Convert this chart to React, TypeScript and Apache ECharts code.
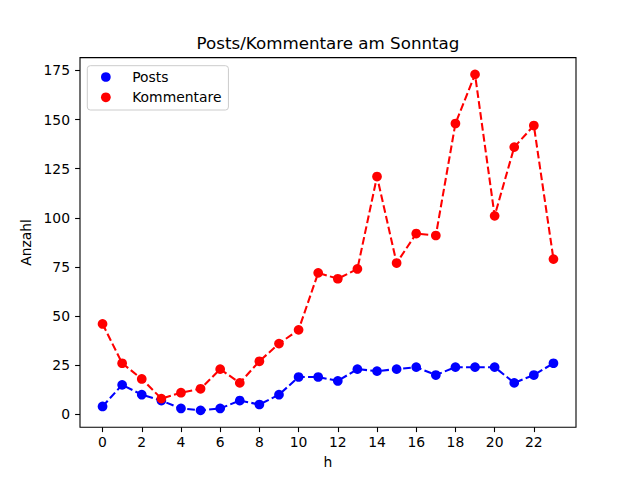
import React, { useEffect, useRef } from "react";
import * as echarts from "echarts";

const hours = [0, 1, 2, 3, 4, 5, 6, 7, 8, 9, 10, 11, 12, 13, 14, 15, 16, 17, 18, 19, 20, 21, 22, 23];
const posts = [4, 15, 10, 7, 3, 2, 3, 7, 5, 10, 19, 19, 17, 23, 22, 23, 24, 20, 24, 24, 24, 16, 20, 26];
const kommentare = [46, 26, 18, 8, 11, 13, 23, 16, 27, 36, 43, 72, 69, 74, 121, 77, 92, 91, 148, 173, 101, 136, 147, 79];
const xTicks = [0, 2, 4, 6, 8, 10, 12, 14, 16, 18, 20, 22];
const yTicks = [0, 25, 50, 75, 100, 125, 150, 175];

const FONT = "DejaVu Sans";

export default function App() {
  const ref = useRef<HTMLDivElement>(null);
  useEffect(() => {
    if (!ref.current) return;
    const chart = echarts.init(ref.current, undefined, { renderer: "svg" });
    const lineStyle = (c: string) => ({ color: c, width: 2.08, type: [7.7, 3.3] as any });
    chart.setOption({
      animation: false,
      backgroundColor: "#ffffff",
      textStyle: { fontFamily: FONT },
      title: {
        text: "Posts/Kommentare am Sonntag",
        left: 328,
        textAlign: "center",
        top: 34.7,
        padding: 0,
        textStyle: { fontFamily: FONT, fontSize: 16.7, fontWeight: "normal", color: "#000", lineHeight: 17 },
      },
      legend: {
        orient: "vertical",
        left: 87.3,
        top: 65.7,
        padding: [4.3, 7, 5.7, 13.7],
        itemGap: 6.3,
        itemWidth: 9.7,
        itemHeight: 9.7,
        icon: "circle",
        borderColor: "#cccccc",
        borderWidth: 1,
        borderRadius: 3,
        backgroundColor: "rgba(255,255,255,0.8)",
        textStyle: { fontFamily: FONT, fontSize: 13.9, color: "#000", lineHeight: 14, padding: [0, 0, 0, 16.5] },
        data: ["Posts", "Kommentare"],
      },
      grid: {
        left: 80,
        right: 64,
        top: 57.6,
        bottom: 52.8,
        show: true,
        borderColor: "#000",
        borderWidth: 1.1,
        backgroundColor: "transparent",
      },
      xAxis: {
        type: "value",
        min: -1.15,
        max: 24.15,
        name: "h",
        nameLocation: "middle",
        nameGap: 28,
        nameTextStyle: { fontFamily: FONT, fontSize: 13.9, color: "#000", lineHeight: 14 },
        axisLine: { show: false, onZero: false },
        splitLine: { show: false },
        axisTick: { show: true, length: 4.9, lineStyle: { color: "#000", width: 1.1 }, customValues: xTicks },
        axisLabel: { fontFamily: FONT, fontSize: 13.9, color: "#000", margin: 8, customValues: xTicks },
      },
      yAxis: {
        type: "value",
        min: -6.55,
        max: 181.55,
        name: "Anzahl",
        nameLocation: "middle",
        nameGap: 42,
        nameTextStyle: { fontFamily: FONT, fontSize: 13.9, color: "#000", lineHeight: 14 },
        axisLine: { show: false, onZero: false },
        splitLine: { show: false },
        axisTick: { show: true, length: 4.9, lineStyle: { color: "#000", width: 1.1 }, customValues: yTicks },
        axisLabel: { fontFamily: FONT, fontSize: 13.9, color: "#000", margin: 10, customValues: yTicks },
      },
      series: [
        {
          name: "Posts",
          type: "line",
          data: hours.map((h, i) => [h, posts[i]]),
          symbol: "circle",
          symbolSize: 9.7,
          showAllSymbol: true,
          itemStyle: { color: "#0000ff" },
          lineStyle: lineStyle("#0000ff"),
        },
        {
          name: "Kommentare",
          type: "line",
          data: hours.map((h, i) => [h, kommentare[i]]),
          symbol: "circle",
          symbolSize: 9.7,
          showAllSymbol: true,
          itemStyle: { color: "#ff0000" },
          lineStyle: lineStyle("#ff0000"),
        },
      ],
    });
    return () => chart.dispose();
  }, []);
  return <div ref={ref} style={{ position: "absolute", left: 0, top: 0, width: 640, height: 480 }} />;
}
